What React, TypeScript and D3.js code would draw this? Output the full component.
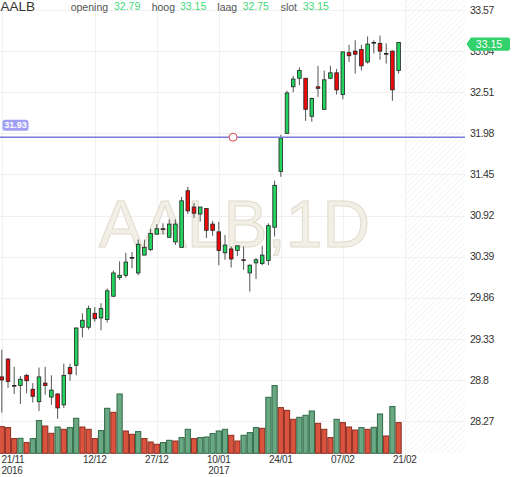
import React, { useEffect, useRef } from "react";
import * as d3 from "d3";

const symbol = "AALB";
const interval = "1D";

// trading days shown (dd/mm), 21/11/2016 .. 20/02/2017
const dates = [
  "21/11", "22/11", "23/11", "24/11", "25/11", "28/11", "29/11", "30/11",
  "01/12", "02/12", "05/12", "06/12", "07/12", "08/12", "09/12", "12/12",
  "13/12", "14/12", "15/12", "16/12", "19/12", "20/12", "21/12", "22/12",
  "23/12", "27/12", "28/12", "29/12", "30/12", "02/01", "03/01", "04/01",
  "05/01", "06/01", "09/01", "10/01", "11/01", "12/01", "13/01", "16/01",
  "17/01", "18/01", "19/01", "20/01", "23/01", "24/01", "25/01", "26/01",
  "27/01", "30/01", "31/01", "01/02", "02/02", "03/02", "06/02", "07/02",
  "08/02", "09/02", "10/02", "13/02", "14/02", "15/02", "16/02", "17/02",
  "20/02",
];

const open = [
  28.84, 29.07, 28.73, 28.73, 28.86, 28.68, 28.52, 28.76, 28.58, 28.62,
  28.48, 28.96, 28.99, 29.48, 29.48, 29.66, 29.6, 29.58, 29.88, 30.12,
  30.15, 30.38, 30.18, 30.41, 30.48, 30.68, 30.75, 30.64, 30.58, 30.51,
  31.24, 31.03, 30.94, 31.01, 30.81, 30.71, 30.44, 30.49, 30.47, 30.35,
  30.18, 30.31, 30.3, 30.34, 30.77, 31.49, 31.98, 32.58, 32.69, 32.69,
  32.2, 32.58, 32.29, 32.69, 32.76, 32.48, 33.02, 33.04, 33.06, 32.9,
  33.15, 33.14, 33.01, 33.04, 32.79,
];
const high = [
  29.19, 29.08, 28.97, 28.85, 28.88, 28.76, 28.96, 28.97, 28.86, 28.63,
  29.01, 29.01, 29.48, 29.66, 29.76, 29.74, 29.79, 29.98, 30.21, 30.33,
  30.44, 30.45, 30.61, 30.61, 30.75, 30.81, 30.82, 30.87, 30.87, 31.16,
  31.29, 31.08, 31.03, 31.01, 30.85, 30.84, 30.67, 30.52, 30.53, 30.52,
  30.29, 30.37, 30.53, 30.82, 31.37, 31.96, 32.53, 32.72, 32.83, 32.69,
  32.44, 32.85, 32.79, 32.85, 32.81, 33.03, 33.12, 33.18, 33.12, 33.23,
  33.18, 33.24, 33.14, 33.05, 33.15,
];
const low = [
  28.38, 28.7, 28.62, 28.49, 28.63, 28.51, 28.4, 28.61, 28.48, 28.3,
  28.44, 28.79, 28.86, 29.35, 29.45, 29.55, 29.44, 29.54, 29.87, 30.09,
  30.12, 30.24, 30.15, 30.41, 30.46, 30.68, 30.68, 30.63, 30.54, 30.51,
  30.94, 30.89, 30.84, 30.63, 30.66, 30.28, 30.35, 30.25, 30.4, 30.22,
  29.94, 30.1, 30.28, 30.28, 30.65, 31.42, 31.98, 32.51, 32.6, 32.14,
  32.13, 32.45, 32.28, 32.68, 32.48, 32.42, 32.9, 32.75, 32.79, 32.88,
  33.01, 32.93, 32.88, 32.4, 32.75,
];
const close = [
  28.8, 28.78, 28.72, 28.81, 28.79, 28.59, 28.84, 28.73, 28.67, 28.44,
  28.86, 28.88, 29.47, 29.57, 29.72, 29.59, 29.72, 29.95, 30.18, 30.15,
  30.32, 30.37, 30.55, 30.51, 30.69, 30.75, 30.74, 30.81, 30.81, 31.11,
  30.98, 30.95, 31.03, 30.73, 30.73, 30.47, 30.54, 30.36, 30.53, 30.34,
  30.28, 30.35, 30.41, 30.79, 31.31, 31.92, 32.5, 32.68, 32.79, 32.29,
  32.43, 32.56, 32.67, 32.76, 32.54, 33.03, 32.98, 33.0, 32.85, 33.13,
  33.15, 33.04, 33.0, 32.54, 33.15,
];
// volume in thousands
const volume = [
  267, 257, 147, 150, 107, 147, 327, 273, 200, 263,
  240, 257, 350, 263, 240, 147, 227, 450, 410, 593,
  223, 190, 217, 147, 113, 90, 107, 130, 123, 157,
  240, 147, 157, 163, 197, 223, 240, 180, 123, 180,
  207, 257, 250, 560, 677, 457, 430, 340, 360, 380,
  423, 300, 240, 157, 340, 307, 263, 233, 257, 240,
  260, 393, 173, 467, 307,
];

const priceTicks = [33.57, 33.04, 32.51, 31.98, 31.45, 30.92, 30.39, 29.86, 29.33, 28.8, 28.27];
const dateTicks = ["21/11", "12/12", "27/12", "10/01", "24/01", "07/02", "21/02"];
const yearTicks = ["2016", "", "", "2017", "", "", ""];

const alertPrice = 31.93;
const alertIndex = 37.3;

const FONT = "'Liberation Sans', Arial, sans-serif";

const CandleChart = () => {
  const svgRef = useRef<SVGSVGElement>(null);

  useEffect(() => {
    const svg = d3.select(svgRef.current);
    svg.selectAll("*").remove();

    const plotRight = 465;
    const volBottom = 453.3;
    const n = dates.length;

    const x = d3.scaleLinear().domain([0, n]).range([1.8, 1.8 + 6.2 * n]);
    const y = d3.scaleLinear().domain([28.27, 33.57]).range([421.1, 10]);
    const yVol = d3.scaleLinear().domain([0, 1000]).range([volBottom, volBottom - 100]);
    const step = x(1) - x(0);
    const tickIndex = (d: string) => {
      const i = dates.indexOf(d);
      return i >= 0 ? i : n;
    };

    // hatch pattern for the future zone
    const defs = svg.append("defs");
    defs
      .append("pattern")
      .attr("id", "hatch")
      .attr("width", 4)
      .attr("height", 4)
      .attr("patternUnits", "userSpaceOnUse")
      .attr("patternTransform", "rotate(45)")
      .append("line")
      .attr("x1", 0)
      .attr("y1", 0)
      .attr("x2", 0)
      .attr("y2", 4)
      .attr("stroke", "#ececec")
      .attr("stroke-width", 1);

    svg
      .append("rect")
      .attr("x", x(n))
      .attr("y", 0)
      .attr("width", plotRight - x(n))
      .attr("height", volBottom)
      .attr("fill", "url(#hatch)");

    // grid
    const grid = svg.append("g").attr("stroke", "#f0f0f0").attr("stroke-width", 1);
    grid
      .selectAll("line.h")
      .data(priceTicks)
      .enter()
      .append("line")
      .attr("x1", 0)
      .attr("x2", plotRight)
      .attr("y1", (d) => Math.round(y(d)) + 0.5)
      .attr("y2", (d) => Math.round(y(d)) + 0.5);
    grid
      .selectAll("line.v")
      .data(dateTicks)
      .enter()
      .append("line")
      .attr("x1", (d) => Math.round(x(tickIndex(d))) + 0.5)
      .attr("x2", (d) => Math.round(x(tickIndex(d))) + 0.5)
      .attr("y1", 0)
      .attr("y2", volBottom);

    // watermark
    svg
      .append("text")
      .attr("x", plotRight / 2 + 2)
      .attr("y", 246.7)
      .attr("text-anchor", "middle")
      .attr("font-family", FONT)
      .attr("font-size", 66)
      .attr("fill", "#f2efe6")
      .attr("stroke", "#e1dccd")
      .attr("stroke-width", 1)
      .text(`${symbol},${interval}`);

    // volume bars, coloured by change against the previous day's volume
    const idx = d3.range(n);
    const volUp = (i: number) => i > 0 && volume[i] >= volume[i - 1];
    svg
      .append("g")
      .selectAll("rect")
      .data(idx)
      .enter()
      .append("rect")
      .attr("x", (i) => x(i) - step / 2 + 0.5)
      .attr("y", (i) => yVol(volume[i]))
      .attr("width", step - 1)
      .attr("height", (i) => volBottom - yVol(volume[i]))
      .attr("fill", (i) => (volUp(i) ? "#6aa783" : "#d9533f"))
      .attr("stroke", (i) => (volUp(i) ? "#2f6a46" : "#8c2c1f"))
      .attr("stroke-width", 1);

    // wicks
    svg
      .append("g")
      .selectAll("line")
      .data(idx)
      .enter()
      .append("line")
      .attr("x1", (i) => x(i))
      .attr("x2", (i) => x(i))
      .attr("y1", (i) => y(high[i]))
      .attr("y2", (i) => y(low[i]))
      .attr("stroke", "#555")
      .attr("stroke-width", 1);

    // candle bodies
    svg
      .append("g")
      .selectAll("rect")
      .data(idx)
      .enter()
      .append("rect")
      .attr("x", (i) => x(i) - 1.8)
      .attr("y", (i) => y(Math.max(open[i], close[i])))
      .attr("width", 3.6)
      .attr("height", (i) => Math.max(Math.abs(y(open[i]) - y(close[i])), 0.6))
      .attr("fill", (i) => (close[i] >= open[i] ? "#22d35e" : "#ec0a0a"))
      .attr("stroke", "#222")
      .attr("stroke-width", 0.8);

    // alert line
    svg
      .append("line")
      .attr("x1", 0)
      .attr("x2", plotRight)
      .attr("y1", y(alertPrice))
      .attr("y2", y(alertPrice))
      .attr("stroke", "#7a7ad8")
      .attr("stroke-width", 1.6);
    svg
      .append("circle")
      .attr("cx", x(alertIndex))
      .attr("cy", y(alertPrice))
      .attr("r", 4)
      .attr("fill", "#fff")
      .attr("stroke", "#e0474c")
      .attr("stroke-width", 1);
    svg
      .append("rect")
      .attr("x", 2.5)
      .attr("y", y(alertPrice) - 17.5)
      .attr("width", 26)
      .attr("height", 11)
      .attr("rx", 2.5)
      .attr("fill", "#a09ff2");
    svg
      .append("text")
      .attr("x", 15.5)
      .attr("y", y(alertPrice) - 8.8)
      .attr("text-anchor", "middle")
      .attr("font-family", FONT)
      .attr("font-size", 9)
      .attr("font-weight", "bold")
      .attr("fill", "#fff")
      .text(alertPrice.toFixed(2));

    // price axis labels
    svg
      .append("g")
      .selectAll("text")
      .data(priceTicks)
      .enter()
      .append("text")
      .attr("x", 470)
      .attr("y", (d) => y(d))
      .attr("dy", "0.35em")
      .attr("font-family", FONT)
      .attr("font-size", 10.5)
      .attr("letter-spacing", -0.5)
      .attr("fill", "#333")
      .text((d) => String(d));

    // last price tag (drawn over the axis label, as in the original)
    const last = n - 1;
    const ly = y(close[last]) + 1.5;
    svg
      .append("path")
      .attr(
        "d",
        `M466.5,${ly} L471,${ly - 6.7} L508,${ly - 6.7} Q510,${ly - 6.7} 510,${ly - 4.7} L510,${ly + 4.7} Q510,${ly + 6.7} 508,${ly + 6.7} L471,${ly + 6.7} Z`
      )
      .attr("fill", "#33d16b");
    svg
      .append("text")
      .attr("x", 489)
      .attr("y", ly)
      .attr("dy", "0.36em")
      .attr("text-anchor", "middle")
      .attr("font-family", FONT)
      .attr("font-size", 10.5)
      .attr("fill", "#fff")
      .text(close[last].toFixed(2));

    // date axis labels
    const dg = svg.append("g").attr("font-family", FONT).attr("font-size", 10).attr("fill", "#333");
    dateTicks.forEach((d, k) => {
      const tx = x(tickIndex(d));
      const clamp = tx < 14;
      dg.append("text")
        .attr("x", clamp ? 1.5 : tx)
        .attr("y", 463.3)
        .attr("text-anchor", clamp ? "start" : "middle")
        .attr("letter-spacing", -0.3)
        .text(d);
      if (yearTicks[k]) {
        dg.append("text")
          .attr("x", clamp ? 1.5 : tx)
          .attr("y", 473.6)
          .attr("text-anchor", clamp ? "start" : "middle")
          .attr("letter-spacing", -0.3)
          .text(yearTicks[k]);
      }
    });

    // header
    const hd = svg.append("g").attr("font-family", FONT);
    hd.append("text").attr("x", 0.5).attr("y", 11).attr("font-size", 13.5).attr("fill", "#333").text(symbol);
    const fields = [
      { label: "opening", value: open[last], lx: 70.7, vx: 114 },
      { label: "hoog", value: high[last], lx: 151.7, vx: 180 },
      { label: "laag", value: low[last], lx: 217.3, vx: 242.7 },
      { label: "slot", value: close[last], lx: 280.7, vx: 302.7 },
    ];
    fields.forEach((f) => {
      hd.append("text").attr("x", f.lx).attr("y", 10.5).attr("font-size", 10.5).attr("fill", "#555").text(f.label);
      hd.append("text")
        .attr("x", f.vx)
        .attr("y", 9.5)
        .attr("font-size", 10.5)
        .attr("fill", "#46d777")
        .text(f.value.toFixed(2));
    });
  }, []);

  return <svg ref={svgRef} width={512} height={477} style={{ display: "block" }}></svg>;
};

export default function App() {
  return (
    <div style={{ position: "absolute", left: 0, top: 0, width: 512, height: 477, background: "#fff" }}>
      <CandleChart />
    </div>
  );
}
